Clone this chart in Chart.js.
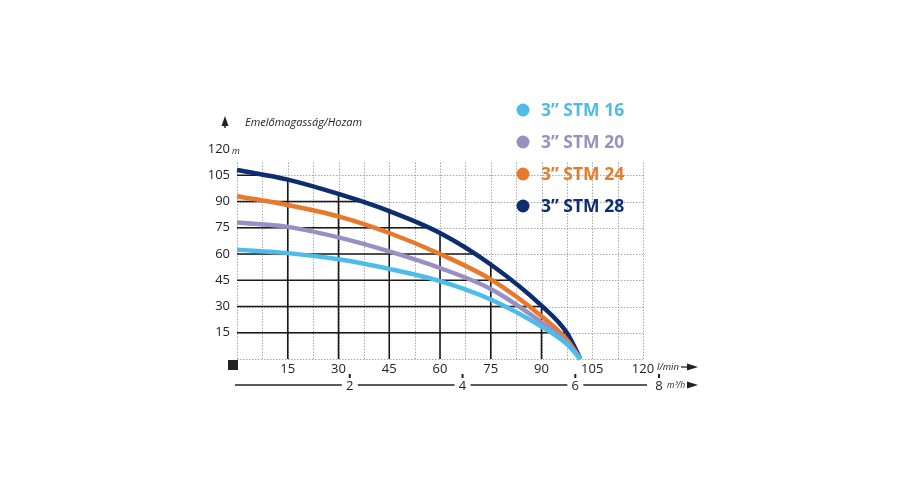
<!DOCTYPE html>
<html>
<head>
<meta charset="utf-8">
<script src="https://cdn.jsdelivr.net/npm/chart.js@4.4.0/dist/chart.umd.min.js"></script>
<style>
  html, body { margin: 0; padding: 0; background: #fff; }
  #wrap { width: 900px; height: 500px; }
</style>
</head>
<body>
<div id="wrap"><canvas id="pumpChart" width="900" height="500"></canvas></div>
<script>
// flow in l/min, head in m
const flow = [0, 15, 30, 45, 60, 75, 90, 97.5, 101.5];
const stm16 = [62.5, 60.5, 57, 51.5, 44.5, 34, 18.5, 8.5, 0];
const stm20 = [78, 75.5, 69.5, 61.5, 52, 40, 21, 9.5, 0];
const stm24 = [93, 88, 81.5, 72, 60, 45.5, 24.5, 11, 0];
const stm28 = [108, 102.5, 94.3, 84.5, 72, 54, 30.5, 15, 0];

const seriesLabels = ["3\u201D STM 16", "3\u201D STM 20", "3\u201D STM 24", "3\u201D STM 28"];
const seriesColors = ["#4dbce9", "#9a8fc3", "#e8792b", "#0c2d6e"];

const headTicks = [15, 30, 45, 60, 75, 90, 105, 120];
const flowTicks = [15, 30, 45, 60, 75, 90, 105, 120];
const m3hTicks = [2, 4, 6];
const m3hLast = 8;

const toPoints = (ys) => ys.map((y, i) => ({ x: flow[i], y: y }));

const font = "'Open Sans', 'DejaVu Sans', sans-serif";

// grid: dotted everywhere, solid black under the highest curve
const gridPlugin = {
  id: "pumpGrid",
  beforeDatasetsDraw(chart) {
    const { ctx, scales: { x, y } } = chart;
    const x0 = x.getPixelForValue(0), x1 = x.getPixelForValue(120);
    const y0 = y.getPixelForValue(0), yTop = y.getPixelForValue(112.5);
    ctx.save();
    ctx.strokeStyle = "#a8a8a8";
    ctx.lineWidth = 1;
    ctx.setLineDash([1.5, 1.5]);
    for (let v = 0; v <= 120; v += 7.5) {
      const px = Math.round(x.getPixelForValue(v)) + 0.5;
      ctx.beginPath(); ctx.moveTo(px, y0); ctx.lineTo(px, yTop); ctx.stroke();
    }
    for (let v = 0; v <= 105; v += 15) {
      const py = Math.round(y.getPixelForValue(v)) + 0.5;
      ctx.beginPath(); ctx.moveTo(x0, py); ctx.lineTo(x1, py); ctx.stroke();
    }
    ctx.restore();

    // black grid clipped below the STM 28 curve
    const meta = chart.getDatasetMeta(3);
    const line = meta.dataset;
    const pts = meta.data;
    ctx.save();
    ctx.beginPath();
    try {
      line.updateControlPoints(chart.chartArea, "x");
      line.path(ctx);
    } catch (e) {
      ctx.moveTo(pts[0].x, pts[0].y);
      pts.forEach(p => ctx.lineTo(p.x, p.y));
    }
    ctx.lineTo(pts[pts.length - 1].x, y0);
    ctx.lineTo(pts[0].x, y0);
    ctx.closePath();
    ctx.clip();
    ctx.strokeStyle = "#1a1a1a";
    ctx.lineWidth = 1.6;
    for (let v = 15; v <= 105; v += 15) {
      const px = x.getPixelForValue(v);
      ctx.beginPath(); ctx.moveTo(px, y0); ctx.lineTo(px, yTop); ctx.stroke();
      const py = y.getPixelForValue(v);
      ctx.beginPath(); ctx.moveTo(x0, py); ctx.lineTo(x1, py); ctx.stroke();
    }
    ctx.restore();
  }
};

const arrowRight = (ctx, xs, xe, yy) => {
  ctx.beginPath(); ctx.moveTo(xs, yy); ctx.lineTo(xe - 6, yy); ctx.stroke();
  ctx.beginPath();
  ctx.moveTo(xe, yy); ctx.lineTo(xe - 11, yy - 3.5); ctx.lineTo(xe - 11, yy + 3.5);
  ctx.closePath(); ctx.fill();
};

const decoPlugin = {
  id: "pumpDeco",
  afterDraw(chart) {
    const { ctx, chartArea, scales: { x, y } } = chart;
    ctx.save();
    ctx.fillStyle = "#222";
    ctx.strokeStyle = "#222";

    // up arrow + title
    const ax = chartArea.left - 12;
    ctx.lineWidth = 1.5;
    ctx.beginPath(); ctx.moveTo(ax, 128); ctx.lineTo(ax, 120); ctx.stroke();
    ctx.beginPath(); ctx.moveTo(ax, 116); ctx.lineTo(ax - 3.5, 126); ctx.lineTo(ax + 3.5, 126); ctx.closePath(); ctx.fill();
    ctx.font = "italic 11px " + font;
    ctx.textBaseline = "middle";
    ctx.textAlign = "left";
    ctx.fillText("Emel\u0151magass\u00E1g/Hozam", chartArea.left + 8, 123);

    // unit next to 120
    ctx.font = "italic 9px " + font;
    ctx.fillText("m", chartArea.left - 5, y.getPixelForValue(120) + 2);

    // origin square
    ctx.fillRect(chartArea.left - 9, chartArea.bottom + 1, 10, 10);

    // l/min label and arrow
    ctx.font = "italic 9.5px " + font;
    ctx.fillText("l/min", chartArea.right + 14, chartArea.bottom + 8);
    ctx.lineWidth = 1.3;
    arrowRight(ctx, chartArea.right + 38, chartArea.right + 55, chartArea.bottom + 8);

    // m3/h axis
    const my = chartArea.bottom + 26;
    ctx.lineWidth = 1.3;
    ctx.beginPath(); ctx.moveTo(chartArea.left - 2, my); ctx.lineTo(chartArea.right + 4, my); ctx.stroke();
    ctx.font = "13px " + font;
    ctx.textAlign = "center";
    const lastX = chartArea.right + 16;
    const labels = m3hTicks.map(v => ({ v, px: x.getPixelForValue(v * 1000 / 60) }));
    labels.push({ v: m3hLast, px: lastX });
    labels.forEach(l => {
      ctx.fillStyle = "#fff";
      ctx.fillRect(l.px - 8, my - 6, 16, 12);
      ctx.fillStyle = "#222";
      ctx.fillText(String(l.v), l.px, my + 1);
      ctx.fillRect(l.px - 1, my - 11, 2, 4);
    });
    ctx.font = "italic 8.5px " + font;
    ctx.textAlign = "left";
    ctx.fillText("m\u00B3/h", lastX + 8, my + 1);
    arrowRight(ctx, lastX + 29, chartArea.right + 55, my);

    // legend
    ctx.font = "bold 17.5px " + font;
    chart.data.datasets.forEach((ds, i) => {
      const cy = 110 + i * 32;
      ctx.fillStyle = ds.borderColor;
      ctx.beginPath(); ctx.arc(523, cy, 6.5, 0, Math.PI * 2); ctx.fill();
      ctx.fillText(ds.label, 541, cy + 1);
    });
    ctx.restore();
  }
};

const ctxEl = document.getElementById("pumpChart").getContext("2d");
new Chart(ctxEl, {
  type: "line",
  data: {
    datasets: [stm16, stm20, stm24, stm28].map((s, i) => ({
      label: seriesLabels[i],
      data: toPoints(s),
      borderColor: seriesColors[i],
      backgroundColor: seriesColors[i],
      borderWidth: 4.5,
      pointRadius: 0,
      cubicInterpolationMode: "monotone",
      fill: false,
      clip: false,
    })),
  },
  options: {
    responsive: false,
    animation: false,
    layout: { padding: { left: 180, right: 257, top: 149, bottom: 111 } },
    plugins: {
      legend: { display: false },
      tooltip: { enabled: false },
    },
    scales: {
      x: {
        type: "linear",
        min: 0,
        max: 120,
        afterFit: (s) => { s.height = 30; },
        afterBuildTicks: (s) => { s.ticks = [0].concat(flowTicks).map(v => ({ value: v })); },
        grid: { display: false, drawTicks: false },
        border: { display: false },
        ticks: {
          padding: 2,
          color: "#222",
          font: { family: font, size: 13 },
          maxRotation: 0,
          callback: (v) => (v === 0 ? "" : v),
        },
      },
      y: {
        type: "linear",
        min: 0,
        max: 120,
        afterFit: (s) => { s.width = 57; },
        afterBuildTicks: (s) => { s.ticks = [0].concat(headTicks).map(v => ({ value: v })); },
        grid: { display: false, drawTicks: false },
        border: { display: false },
        ticks: {
          padding: 7,
          color: "#222",
          font: { family: font, size: 13 },
          callback: (v) => (v === 0 ? "" : v),
        },
      },
    },
  },
  plugins: [gridPlugin, decoPlugin],
});
</script>
</body>
</html>
